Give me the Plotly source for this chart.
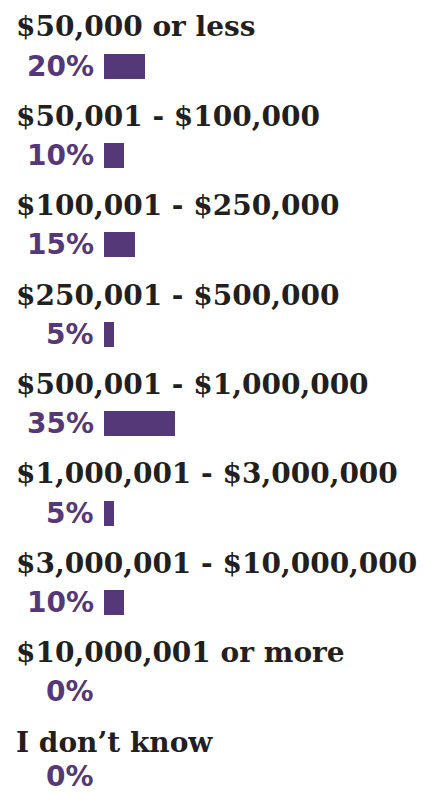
import plotly.graph_objects as go

# Survey answer ranges and share of respondents (%)
ranges = [
    "$50,000 or less",
    "$50,001 - $100,000",
    "$100,001 - $250,000",
    "$250,001 - $500,000",
    "$500,001 - $1,000,000",
    "$1,000,001 - $3,000,000",
    "$3,000,001 - $10,000,000",
    "$10,000,001 or more",
    "I don\u2019t know",
]
shares = [20, 10, 15, 5, 35, 5, 10, 0, 0]

PURPLE = "#553878"
INK = "#231f20"
LABEL_FONT = "DejaVu Serif"
PCT_FONT = "DejaVu Sans"

rows = list(range(len(ranges)))

fig = go.Figure(
    go.Bar(
        x=shares,
        y=rows,
        orientation="h",
        width=0.28,
        marker=dict(color=PURPLE, line=dict(width=0)),
        hoverinfo="skip",
    )
)

last = len(ranges) - 1
annotations = []
for i, (name, val) in enumerate(zip(ranges, shares)):
    # range heading above each bar
    annotations.append(dict(
        x=0.032, xref="paper", y=i - 0.44, yref="y",
        text=f"<b>{name}</b>", showarrow=False,
        xanchor="left", yanchor="middle",
        font=dict(family=LABEL_FONT, size=28, color=INK),
    ))
    # percentage to the left of the bar (bottom one kept inside the page)
    annotations.append(dict(
        x=0, xref="x", y=i, yref="y",
        text=f"<b>{val}%</b>", showarrow=False,
        xanchor="right", yanchor="middle", xshift=-8,
        yshift=5 if i == last else 0,
        font=dict(family=PCT_FONT, size=28, color=PURPLE),
    ))

fig.update_layout(
    width=424, height=793,
    margin=dict(l=0, r=0, t=0, b=0),
    paper_bgcolor="white", plot_bgcolor="white",
    showlegend=False,
    annotations=annotations,
    xaxis=dict(range=[-51.0, 156.9], visible=False, fixedrange=True),
    yaxis=dict(range=[8.13, -0.74], visible=False, fixedrange=True),
    bargap=0,
)

fig.write_html("out.html", config={"displayModeBar": False})
